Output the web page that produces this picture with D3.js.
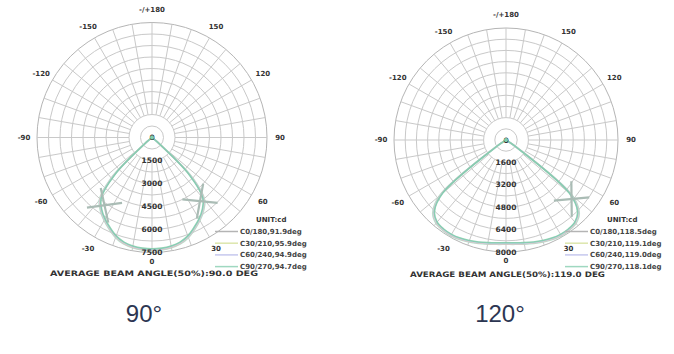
<!DOCTYPE html>
<html><head><meta charset="utf-8">
<script src="https://cdn.jsdelivr.net/npm/d3@7/dist/d3.min.js"></script>
<style>body{margin:0;background:#fff}svg{display:block}</style>
</head><body>
<script>
// ---- data ----
const angles = [0,5,10,15,20,25,30,35,40,45,50,55,60,65,70,75,80,85,90];
const seriesNames = ["C0/180","C30/210","C60/240","C90/270"];

// 90° lens, cd
const left_C0   = [7380,7360,7300,7180,6950,6600,6250,5850,5350,3800,500,60,0,0,0,0,0,0,0];
const left_C30  = [7340,7320,7260,7140,6910,6560,6210,5800,5280,3650,450,50,0,0,0,0,0,0,0];
const left_C60  = [7300,7280,7220,7100,6870,6520,6170,5760,5220,3550,420,40,0,0,0,0,0,0,0];
const left_C90  = [7260,7240,7180,7060,6830,6480,6130,5720,5160,3450,400,30,0,0,0,0,0,0,0];
const leftBeam  = ["91.9deg","95.9deg","94.9deg","94.7deg"];
const leftTicks = [1500,3000,4500,6000,7500];
const leftCaption = "AVERAGE BEAM ANGLE(50%):90.0 DEG";

// 120° lens, cd
const right_C0  = [7450,7480,7550,7650,7760,7850,7900,7880,7780,7400,6200,1200,100,0,0,0,0,0,0];
const right_C30 = [7420,7450,7520,7620,7720,7810,7860,7840,7730,7330,6100,1100,90,0,0,0,0,0,0];
const right_C60 = [7380,7410,7480,7580,7680,7770,7820,7800,7690,7280,6000,1000,80,0,0,0,0,0,0];
const right_C90 = [7340,7370,7440,7540,7640,7730,7780,7760,7650,7230,5900,950,70,0,0,0,0,0,0];
const rightBeam = ["118.5deg","119.1deg","119.0deg","118.1deg"];
const rightTicks = [1600,3200,4800,6400,8000];
const rightCaption = "AVERAGE BEAM ANGLE(50%):119.0 DEG";

const angleLabels = [-150,-120,-90,-60,-30,0,30,60,90,120,150,180];
const bigLabels = ["90°","120°"];
// half-intensity markers (angle, cd)
const leftMarkers = [[-35,5400],[37,5200]];
const rightMarkers = [[48,6300]];

// ---- drawing ----
const W=674,H=354;
const svg=d3.select("body").append("svg").attr("width",W).attr("height",H);
const colors=["#a6e0c8","#eab8b8","#c4d6f0","#7ccaa6"];
const legendColors=["#b4b4b4","#dde6ac","#c6c8ee","#9fd8c0"];
const font="'DejaVu Sans', 'Liberation Sans', sans-serif";

function chart(o){
  const g=svg.append("g").attr("transform",`translate(${o.cx},${o.cy})`);
  const r=d3.scaleLinear().domain([0,o.max]).range([0,o.R]);
  const step=o.ticks[0]/2;
  const rings=d3.range(step,o.max+1,step);
  g.selectAll("circle.ring").data(rings).join("circle")
    .attr("r",d=>r(d)).attr("fill","none")
    .attr("stroke",(d,i)=>i===rings.length-1?"#b5b5b5":"#c9c9c9").attr("stroke-width",1);
  const spokes=d3.range(-170,181,10);
  g.selectAll("line.spoke").data(spokes).join("line")
    .attr("x1",d=>r(o.ticks[0])*Math.sin(d*Math.PI/180))
    .attr("y1",d=>r(o.ticks[0])*Math.cos(d*Math.PI/180))
    .attr("x2",d=>o.R*Math.sin(d*Math.PI/180))
    .attr("y2",d=>o.R*Math.cos(d*Math.PI/180))
    .attr("stroke","#c9c9c9").attr("stroke-width",1);
  // curves
  const line=d3.lineRadial().angle(d=>Math.PI-d[0]*Math.PI/180).radius(d=>r(d[1])).curve(d3.curveCatmullRom);
  o.series.forEach((vals,i)=>{
    const pts=[];
    for(let k=angles.length-1;k>0;k--) pts.push([-angles[k],vals[k]]);
    for(let k=0;k<angles.length;k++) pts.push([angles[k],vals[k]]);
    g.append("path").attr("d",line(pts)).attr("fill","none")
      .attr("stroke",colors[i]).attr("stroke-width",1.6).attr("opacity",0.85);
  });
  // markers
  o.markers.forEach(([a,v])=>{
    const t=a*Math.PI/180, rr=r(v);
    const mx=rr*Math.sin(t), my=rr*Math.cos(t);
    const mg=g.append("g").attr("transform",`translate(${mx},${my}) rotate(${-a})`);
    mg.append("line").attr("x1",-13).attr("y1",-12).attr("x2",13).attr("y2",12).attr("stroke","#aabcb5").attr("stroke-width",2.2);
    mg.append("line").attr("x1",13).attr("y1",-12).attr("x2",-13).attr("y2",12).attr("stroke","#aabcb5").attr("stroke-width",2.2);
  });
  // angle labels
  g.selectAll("text.al").data(angleLabels).join("text")
    .attr("x",d=>(o.R+13)*Math.sin(d*Math.PI/180))
    .attr("y",d=>(d===0?o.R+9:o.R+13)*Math.cos(d*Math.PI/180))
    .attr("dy","0.35em").attr("text-anchor","middle")
    .attr("font-family",font).attr("font-weight","bold").attr("font-size",7)
    .attr("fill","#333").text(d=>d===180?"-/+180":d);
  // radial tick labels
  g.selectAll("text.rl").data([0].concat(o.ticks)).join("text")
    .attr("x",0).attr("y",d=>r(d)).attr("dy","0.35em").attr("text-anchor","middle")
    .attr("font-family",font).attr("font-weight","bold").attr("font-size",7.5)
    .attr("fill","#333").text(d=>d);
  g.append("circle").attr("r",2).attr("fill","#7fcfae");
  // legend
  const lg=svg.append("g").attr("transform",`translate(${o.lx},${o.ly})`);
  lg.append("text").attr("x",o.ux).attr("y",0).attr("font-family",font).attr("font-weight","bold")
    .attr("font-size",7).attr("fill","#333").text("UNIT:cd");
  seriesNames.forEach((n,i)=>{
    const y=12+i*11.7;
    lg.append("line").attr("x1",-25).attr("x2",-2).attr("y1",y-2.5).attr("y2",y-2.5)
      .attr("stroke",legendColors[i]).attr("stroke-width",1.5);
    lg.append("text").attr("x",0).attr("y",y).attr("font-family",font).attr("font-weight","bold")
      .attr("font-size",7).attr("fill","#444").text(n+","+o.beam[i]);
  });
  svg.append("text").attr("x",o.capx).attr("y",o.capy).attr("textLength",o.capw).attr("lengthAdjust","spacingAndGlyphs")
    .attr("font-family",font).attr("font-weight","bold").attr("font-size",7.5).attr("fill","#333").text(o.caption);
  svg.append("text").attr("x",o.bx).attr("y",322).attr("text-anchor","middle")
    .attr("font-family","'Liberation Sans', Arial, sans-serif").attr("font-size",24).attr("fill","#2c3652").text(o.big);
}

chart({cx:152,cy:137.5,R:115,max:7500,ticks:leftTicks,series:[left_C0,left_C30,left_C60,left_C90],
  markers:leftMarkers,beam:leftBeam,lx:240,ly:222,ux:16,caption:leftCaption,capx:50,capy:275.5,capw:208,bx:144,big:bigLabels[0]});
chart({cx:506,cy:140,R:112,max:8000,ticks:rightTicks,series:[right_C0,right_C30,right_C60,right_C90],
  markers:rightMarkers,beam:rightBeam,lx:590,ly:222,ux:17,caption:rightCaption,capx:410,capy:276.5,capw:195,bx:500,big:bigLabels[1]});
</script>
</body></html>
